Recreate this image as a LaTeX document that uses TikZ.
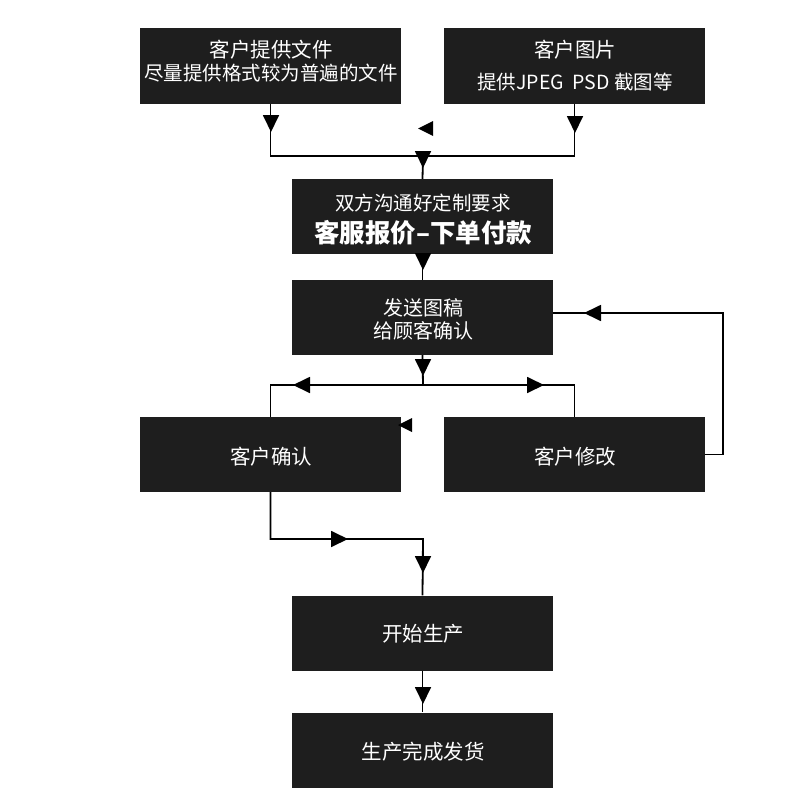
\documentclass[tikz,border=0pt]{standalone}
\usepackage{fontspec}
\setmainfont{Noto Sans CJK SC}
\usetikzlibrary{arrows.meta}
\definecolor{boxc}{HTML}{1E1E1E}
\newcommand\myfs[1]{\fontsize{#1}{#1}\selectfont}
\begin{document}
\begin{tikzpicture}[x=1pt,y=-1pt,
  box/.style={fill=boxc, draw=none, minimum width=261pt, minimum height=75pt, inner sep=0pt},
  txt/.style={text=white, inner sep=0pt, anchor=center},
  conn/.style={line width=1.8pt, black},
  arr/.style={line width=1.8pt, black, -{Triangle[length=17pt 0 0,width=16pt 0 0]}},
  stray/.style={fill=black}]
\useasboundingbox (0,0) rectangle (800,800);

% boxes
\node[box] (b1) at (270.5,66) {};
\node[box] (b2) at (574.5,66) {};
\node[box] (b3) at (422.5,216.5) {};
\node[box] (b4) at (422.5,317.5) {};
\node[box] (b5) at (270.5,454.5) {};
\node[box] (b6) at (574.5,454.5) {};
\node[box] (b7) at (422.5,633) {};
\node[box] (b8) at (422.5,750) {};

% texts
\node[txt,font=\myfs{20.5}] (t1a) at (271,50) {客户提供文件};
\node[txt,font=\myfs{19.5}] (t1b) at (271,73.5) {尽量提供格式较为普遍的文件};
\node[txt,font=\myfs{20.5}] (t2a) at (575,50) {客户图片};
\node[txt,font=\myfs{19.5}] (t2b) at (575,82.5) {提供JPEG\ \ PSD 截图等};
\node[txt,font=\myfs{19.5}] (t3a) at (423,203) {双方沟通好定制要求};
\node[txt,font=\bfseries\myfs{25.5}] (t3b) at (423,233) {客服报价–下单付款};
\node[txt,font=\myfs{20}] (t4a) at (423,307.5) {发送图稿};
\node[txt,font=\myfs{20}] (t4b) at (423,331) {给顾客确认};
\node[txt,font=\myfs{20.5}] (t5) at (271,456.5) {客户确认};
\node[txt,font=\myfs{20.5}] (t6) at (575,456.5) {客户修改};
\node[txt,font=\myfs{20.5}] (t7) at (423,634) {开始生产};
\node[txt,font=\myfs{20.5}] (t8) at (423,751.5) {生产完成发货};

% junction coordinates
\coordinate (j1) at (423,156);
\coordinate (j2) at (423,385);
\coordinate (j3) at (723,313);
\coordinate (j4) at (423,539);

% connectors
\draw[conn] (b1.south) |- (j1) -| (b2.south);
\draw[conn] (j1) -- (b3.north);
\draw[conn] (b3.south) -- (b4.north);
\draw[conn] (b4.south) -- (j2);
\draw[conn] (b5.north) |- (j2) -| (b6.north);
\draw[conn] (b6.east) -| (j3) -- (b4.east |- j3);
\draw[conn] (b5.south) |- (j4) -- (b7.north);
\draw[conn] (b7.south) -- (b8.north);

% arrowheads
\draw[arr] (271,115) -- (271,132);
\draw[arr] (575,116) -- (575,133);
\draw[arr] (423,151) -- (423,168);
\draw[arr] (423,253) -- (423,270);
\draw[arr] (423,359) -- (423,376);
\draw[arr] (310,385) -- (293,385);
\draw[arr] (527,385) -- (544,385);
\draw[arr] (601,313) -- (584,313);
\draw[arr] (331,539) -- (348,539);
\draw[arr] (423,556) -- (423,573);
\draw[arr] (423,687) -- (423,704);

% stray triangles
\fill[stray] (418,128.5) -- (433,121) -- (433,136) -- cycle;
\fill[stray] (398,425) -- (412,418) -- (412,432) -- cycle;
\end{tikzpicture}
\end{document}
